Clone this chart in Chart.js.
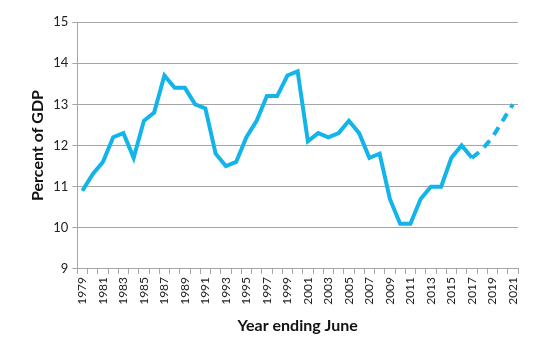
<!DOCTYPE html>
<html>
<head>
<meta charset="utf-8">
<script src="https://cdn.jsdelivr.net/npm/chart.js@4/dist/chart.umd.min.js"></script>
<style>
  html, body { margin: 0; padding: 0; background: #fff; }
  #wrap { width: 540px; height: 361px; }
</style>
</head>
<body>
<div id="wrap"><canvas id="gdp-chart" width="540" height="361"></canvas></div>
<script>
// years ending June, 1979 to 2021
const years = [];
for (let y = 1979; y <= 2021; y++) years.push(String(y));

// percent of GDP
const percentOfGdp = [
  10.9, 11.3, 11.6, 12.2, 12.3, 11.7, 12.6, 12.8, 13.7, 13.4,
  13.4, 13.0, 12.9, 11.8, 11.5, 11.6, 12.2, 12.6, 13.2, 13.2,
  13.7, 13.8, 12.1, 12.3, 12.2, 12.3, 12.6, 12.3, 11.7, 11.8,
  10.7, 10.1, 10.1, 10.7, 11.0, 11.0, 11.7, 12.0, 11.7, 11.9,
  12.2, 12.6, 13.0
];

// the line turns dashed from this year on (projection)
const projectionFrom = '2017';

const yTicks = [9, 10, 11, 12, 13, 14, 15];

const lineBlue = '#12b4ea';
const gridGrey = '#a6a6a6';
const fontFamily = 'Lato, "Open Sans", sans-serif';

const projIndex = years.indexOf(projectionFrom);
const ctx = document.getElementById('gdp-chart').getContext('2d');

// eslint-disable-next-line no-undef,no-unused-vars
const chart = new Chart(ctx, {
  type: 'line',
  data: {
    labels: years,
    datasets: [{
      label: 'Percent of GDP',
      data: percentOfGdp,
      borderColor: lineBlue,
      borderWidth: 4,
      pointRadius: 0,
      tension: 0,
      fill: false,
      segment: {
        borderDash: (c) => (c.p0DataIndex >= projIndex ? [9, 7] : undefined),
      },
    }],
  },
  options: {
    responsive: false,
    animation: false,
    layout: { padding: { left: 24, right: 22, top: 22, bottom: 22 } },
    plugins: {
      legend: { display: false },
      tooltip: { enabled: false },
    },
    scales: {
      x: {
        type: 'category',
        offset: true,
        border: { color: gridGrey, width: 1 },
        grid: {
          offset: true,
          drawOnChartArea: false,
          drawTicks: true,
          tickLength: 5,
          color: gridGrey,
        },
        ticks: {
          autoSkip: false,
          minRotation: 90,
          maxRotation: 90,
          color: '#222',
          padding: 3,
          font: { family: fontFamily, size: 12 },
          callback: (v, i) => (i % 2 === 0 ? years[i] : ''),
        },
        title: {
          display: true,
          text: 'Year ending June',
          color: '#111',
          padding: { top: 8 },
          font: { family: fontFamily, size: 16, weight: 'bold' },
        },
      },
      y: {
        min: yTicks[0],
        max: yTicks[yTicks.length - 1],
        border: { color: gridGrey, width: 1 },
        grid: {
          color: gridGrey,
          lineWidth: 1,
          drawTicks: true,
          tickLength: 5,
        },
        afterBuildTicks: (axis) => { axis.ticks = yTicks.map((v) => ({ value: v })); },
        ticks: {
          color: '#222',
          padding: 4,
          font: { family: fontFamily, size: 13 },
        },
        title: {
          display: true,
          text: 'Percent of GDP',
          color: '#111',
          padding: { bottom: 2 },
          font: { family: fontFamily, size: 16, weight: 'bold' },
        },
      },
    },
  },
});
</script>
</body>
</html>
